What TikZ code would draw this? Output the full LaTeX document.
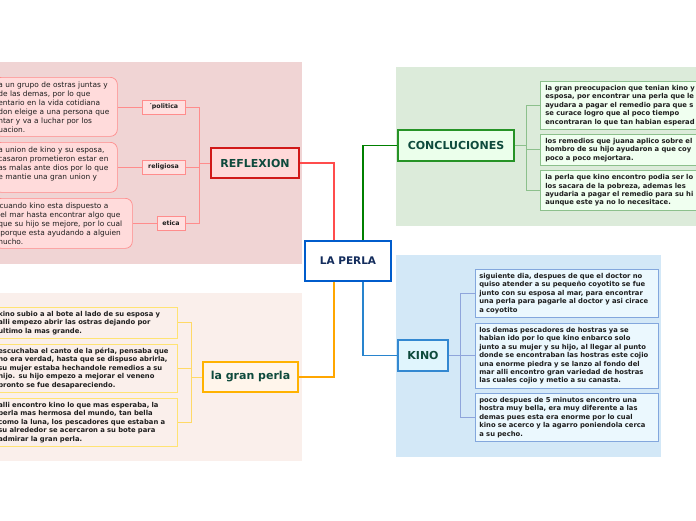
\documentclass[tikz,border=0pt]{standalone}
\usepackage{fontspec}
\setmainfont{DejaVu Sans}
\usetikzlibrary{calc}
\definecolor{redbg}{HTML}{F0D4D4}
\definecolor{greenbg}{HTML}{DCEBDA}
\definecolor{bluebg}{HTML}{D3E8F7}
\definecolor{creambg}{HTML}{FAEFEB}
\definecolor{titletext}{HTML}{0E4A3C}
\definecolor{navytext}{HTML}{132C5C}
\definecolor{bodytext}{HTML}{1E1E1E}
\tikzstyle{topic} = [draw,line width=1.6pt,font=\fontsize{11}{13}\selectfont\bfseries,text=titletext,inner sep=0pt]
\tikzstyle{leaf} = [draw,anchor=north west,align=left,inner ysep=2pt,text=bodytext,font=\fontsize{6.8}{8.4}\selectfont\bfseries,line width=0.7pt]
\tikzstyle{tag} = [draw=red!45!white,fill=red!12!white,line width=0.9pt,font=\fontsize{6.3}{7}\selectfont\bfseries,text=bodytext,minimum height=14pt,inner sep=0pt]
\tikzstyle{rline} = [draw=red!45!white,line width=0.9pt]
\tikzstyle{gline} = [draw=green!45!black!45!white,line width=0.9pt]
\tikzstyle{bline} = [draw=cyan!40!blue!45!white,line width=0.9pt]
\tikzstyle{yline} = [draw=orange!50!yellow!60!white,line width=0.9pt]

\begin{document}
\begin{tikzpicture}[x=1pt,y=-1pt]
  \path[use as bounding box,clip] (0,0) rectangle (696,520);
  \fill[white] (0,0) rectangle (696,520);
  % Backgrounds
  \fill[redbg] (0,62) rectangle (302,264);
  \fill[greenbg] (396,67) rectangle (696,226);
  \fill[bluebg] (396,255) rectangle (661,457);
  \fill[creambg] (0,293) rectangle (302,461);
  % Main topic
  \node[draw=blue!55!cyan!80!black,line width=1.5pt,fill=white,minimum width=86pt,minimum height=40pt,font=\fontsize{10.5}{12}\selectfont\bfseries,text=navytext] (perla) at (348,261) {LA PERLA};
  % Subtopics
  \node[topic,draw=red!80!black!90!white,fill=red!15!white,minimum width=88pt,minimum height=30pt] (reflexion) at (255,163) {REFLEXION};
  \node[topic,draw=green!50!black!85!white,fill=green!8!white,minimum width=116pt,minimum height=31pt] (concl) at (456,145.5) {CONCLUCIONES};
  \node[topic,draw=cyan!60!blue!85!white,fill=cyan!12!white,minimum width=50pt,minimum height=31pt] (kino) at (423,355.5) {KINO};
  \node[topic,draw=orange!60!yellow,fill=orange!8!white,minimum width=95pt,minimum height=30pt] (granperla) at (250.5,377) {la gran perla};
  \draw[draw=red!70!white,line width=1.1pt] ([xshift=-14pt]perla.north) |- (reflexion.east);
  \draw[draw=green!50!black,line width=1.1pt] ([xshift=15pt]perla.north) |- (concl.west);
  \draw[draw=cyan!60!blue!90!white,line width=1.1pt] ([xshift=15pt]perla.south) |- (kino.west);
  \draw[draw=orange!70!yellow,line width=1.1pt] ([xshift=-14pt]perla.south) |- (granperla.east);
  % Reflexion branch
  \node[tag,minimum width=43pt] (politica) at (163.5,107) {´politica};
  \node[tag,minimum width=43pt] (religiosa) at (163.5,167) {religiosa};
  \node[tag,minimum width=28pt] (etica) at (171,223) {etica};
  \tikzstyle{rleaf} = [leaf,draw=red!45!white,fill=red!14!white,rounded corners=7pt,inner xsep=4pt,font=\fontsize{7.4}{9}\selectfont]
  \node[rleaf,text width=115pt,minimum height=59pt] (r1) at (-6,77) {a un grupo de ostras juntas y\\de las demas, por lo que\\entario en la vida cotidiana\\don eleige a una persona que\\ntar y va a luchar por los\\uacion.};
  \node[rleaf,text width=115pt,minimum height=50pt] (r2) at (-6,142) {a union de kino y su esposa,\\casaron prometieron estar en\\as malas ante dios por lo que\\e mantie una gran union y\\.};
  \node[rleaf,text width=130pt,minimum height=50pt] (r3) at (-6,198) {\,cuando kino esta dispuesto a\\\;el mar hasta encontrar algo que\\que su hijo se mejore, por lo cual\\\;porque esta ayudando a alguien\\nucho.};
  \coordinate (rj) at ($(reflexion.west)+(-11,0)$);
  \draw[rline] (reflexion.west) -- (rj);
  \foreach \t/\b in {politica/r1,religiosa/r2,etica/r3} {
    \draw[rline] (rj) |- (\t.east);
    \draw[rline] (\t.west) -- (\b.east |- \t.west);
  }
  % Conclusiones branch
  \tikzstyle{gleaf} = [leaf,draw=green!45!black!45!white,fill=green!6!white,inner xsep=5pt,text width=200pt]
  \node[gleaf,minimum height=48pt] (c1) at (540,81) {la gran preocupacion que tenian kino y\\esposa, por encontrar una perla que le\\ayudara a pagar el remedio para que s\\se curace logro que al poco tiempo\\encontraran lo que tan habian esperad};
  \node[gleaf,minimum height=31pt] (c2) at (540,134) {los remedios que juana aplico sobre el\\hombro de su hijo ayudaron a que coy\\poco a poco mejortara.};
  \node[gleaf,minimum height=40pt] (c3) at (540,170) {la perla que kino encontro podia ser lo\\los sacara de la pobreza, ademas les\\ayudaria a pagar el remedio para su hi\\aunque este ya no lo necesitace.};
  \coordinate (cj) at ($(concl.east)+(12,0)$);
  \draw[gline] (concl.east) -- (cj);
  \foreach \b in {c1,c2,c3} {
    \draw[gline] (cj) |- (\b.west);
  }
  % Kino branch
  \tikzstyle{bleaf} = [leaf,draw=cyan!50!blue!50!white,fill=cyan!8!white,inner xsep=4pt,text width=175pt]
  \node[bleaf,minimum height=48pt] (k1) at (475,269) {siguiente dia, despues de que el doctor no\\quiso atender a su pequeño coyotito se fue\\junto con su esposa al mar, para encontrar\\una perla para pagarle al doctor y asi cirace\\a coyotito};
  \node[bleaf,minimum height=65pt] (k2) at (475,323) {los demas pescadores de hostras ya se\\habian ido por lo que kino enbarco solo\\junto a su mujer y su hijo, al llegar al punto\\donde se encontraban las hostras este cojio\\una enorme piedra y se lanzo al fondo del\\mar alli encontro gran variedad de hostras\\las cuales cojio y metio a su canasta.};
  \node[bleaf,minimum height=48pt] (k3) at (475,393) {poco despues de 5 minutos encontro una\\hostra muy bella, era muy diferente a las\\demas pues esta era enorme por lo cual\\kino se acerco y la agarro poniendola cerca\\a su pecho.};
  \coordinate (kj) at ($(kino.east)+(12,0)$);
  \draw[bline] (kino.east) -- (kj);
  \foreach \b in {k1,k2,k3} {
    \draw[bline] (kj) |- (\b.west);
  }
  % Gran perla branch
  \tikzstyle{yleaf} = [leaf,draw=orange!40!yellow!55!white,fill=creambg,inner xsep=4pt,text width=175pt]
  \node[yleaf,minimum height=31pt] (g1) at (-6,307) {kino subio a al bote al lado de su esposa y\\alli empezo abrir las ostras dejando por\\ultimo la mas grande.};
  \node[yleaf,minimum height=48pt] (g2) at (-6,344) {escuchaba el canto de la pérla, pensaba que\\no era verdad, hasta que se dispuso abrirla,\\su mujer estaba hechandole remedios a su\\hijo. su hijo empezo a mejorar el veneno\\pronto se fue desapareciendo.};
  \node[yleaf,minimum height=48pt] (g3) at (-6,398) {alli encontro kino lo que mas esperaba, la\\perla mas hermosa del mundo, tan bella\\como la luna, los pescadores que estaban a\\su alrededor se acercaron a su bote para\\admirar la gran perla.};
  \coordinate (gj) at ($(granperla.west)+(-11,0)$);
  \draw[yline] (granperla.west) -- (gj);
  \foreach \b in {g1,g2,g3} {
    \draw[yline] (gj) |- (\b.east);
  }
\end{tikzpicture}
\end{document}
